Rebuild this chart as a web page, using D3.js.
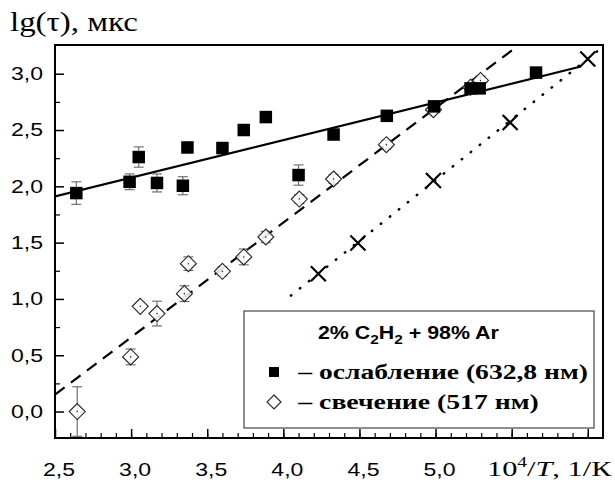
<!DOCTYPE html>
<html>
<head>
<meta charset="utf-8">
<script src="https://cdn.jsdelivr.net/npm/d3@7"></script>
<style>
  body { margin: 0; background: #fff; }
  .tick text { font-family: "Liberation Sans", Arial, sans-serif; font-size: 18px; fill: #000; }
</style>
</head>
<body>
<div id="chart"></div>
<script>
// ослабление (632,8 нм) - filled squares
var sqX   = [2.64, 2.99, 3.05, 3.17, 3.34, 3.37, 3.60, 3.74, 3.885, 4.10, 4.33, 4.68, 4.99, 5.23, 5.29, 5.66];
var sqY   = [1.94, 2.04, 2.26, 2.03, 2.005, 2.345, 2.34, 2.50, 2.615, 2.10, 2.46, 2.626, 2.71, 2.87, 2.87, 3.01];
var sqErr = [0.10, 0.07, 0.09, 0.08, 0.08, 0, 0, 0, 0, 0.09, 0, 0, 0, 0, 0, 0];

// свечение (517 нм) - open diamonds
var dmX   = [2.646, 2.997, 3.06, 3.17, 3.35, 3.376, 3.60, 3.74, 3.885, 4.105, 4.33, 4.677, 4.986, 5.23, 5.295];
var dmY   = [0.0, 0.485, 0.934, 0.87, 1.047, 1.313, 1.245, 1.373, 1.55, 1.887, 2.065, 2.37, 2.68, 2.88, 2.94];
var dmErr = [0.22, 0.07, 0, 0.11, 0.07, 0.06, 0.04, 0.07, 0.05, 0.04, 0.04, 0.04, 0.03, 0.03, 0.04];

// crosses
var crX = [4.23, 4.49, 4.986, 5.49, 6.0];
var crY = [1.224, 1.497, 2.052, 2.567, 3.13];

// fitted lines (end points)
var solidX  = [2.5, 5.955],  solidY  = [1.91, 3.064];
var dashedX = [2.5, 5.534],  dashedY = [0.15, 3.24];
var dottedX = [4.05, 6.09],  dottedY = [1.03, 3.23];

var xTicks = [2.5, 3.0, 3.5, 4.0, 4.5, 5.0];
var yTicks = [0.0, 0.5, 1.0, 1.5, 2.0, 2.5, 3.0];

var width = 615, height = 484;
var margin = {top: 45, right: 12, bottom: 46, left: 55};
var w = width - margin.left - margin.right,
    h = height - margin.top - margin.bottom;

var fmt = function(d) { return d3.format(".1f")(d).replace(".", ","); };

var x = d3.scaleLinear().domain([2.5, 6.1]).range([0, w]);
var y = d3.scaleLinear().domain([-0.235, 3.255]).range([h, 0]);

var root = d3.select("#chart").append("svg")
    .attr("width", width)
    .attr("height", height);
var svg = root.append("g")
    .attr("transform", "translate(" + margin.left + "," + margin.top + ")");

svg.append("defs").append("clipPath").attr("id", "clip")
  .append("rect").attr("width", w).attr("height", h);

// the scanned figure is stretched sideways, so text is widened to match
function stretch(sel, target) {
  sel.each(function() {
    var b = this.getBBox();
    var s = target / b.width, ax = b.x;
    var a = d3.select(this).attr("text-anchor");
    if (a === "middle") ax = b.x + b.width / 2;
    if (a === "end") ax = b.x + b.width;
    var t = d3.select(this).attr("transform") || "";
    d3.select(this).attr("transform", t + " translate(" + ax + ",0) scale(" + s + ",1) translate(" + (-ax) + ",0)");
  });
}

// minor ticks
svg.append("g")
    .attr("transform", "translate(0," + h + ")")
    .call(d3.axisBottom(x).tickValues(d3.range(2.6, 6.05, 0.1)).tickSize(-5).tickFormat(""))
    .call(function(g) { g.select(".domain").remove(); g.selectAll("line").attr("stroke-width", 1.2); });
svg.append("g")
    .call(d3.axisLeft(y).tickValues(d3.range(0.25, 3.2, 0.5)).tickSize(-5).tickFormat(""))
    .call(function(g) { g.select(".domain").remove(); g.selectAll("line").attr("stroke-width", 1.2); });

// major ticks
var xAxis = svg.append("g")
    .attr("transform", "translate(0," + h + ")")
    .call(d3.axisBottom(x).tickValues([2.5, 3.0, 3.5, 4.0, 4.5, 5.0, 5.5, 6.0]).tickSize(-9).tickPadding(25)
      .tickFormat(function(d) { return xTicks.indexOf(d) >= 0 ? fmt(d) : ""; }))
    .call(function(g) { g.select(".domain").remove(); g.selectAll("line").attr("stroke-width", 1.5); });
var yAxis = svg.append("g")
    .call(d3.axisLeft(y).tickValues(yTicks).tickSize(-9).tickPadding(19).tickFormat(fmt))
    .call(function(g) { g.select(".domain").remove(); g.selectAll("line").attr("stroke-width", 1.5); });
stretch(xAxis.selectAll(".tick text").filter(function(d) { return xTicks.indexOf(d) >= 0; }), 32);
stretch(yAxis.selectAll(".tick text"), 32);

// frame
svg.append("rect")
    .attr("width", w).attr("height", h)
    .attr("fill", "none").attr("stroke", "#000").attr("stroke-width", 2);

var plot = svg.append("g").attr("clip-path", "url(#clip)");

function fitLine(xs, ys) {
  return d3.line().x(function(d) { return x(d); }).y(function(d, i) { return y(ys[i]); })(xs);
}

plot.append("path").attr("d", fitLine(solidX, solidY))
    .attr("fill", "none").attr("stroke", "#000").attr("stroke-width", 2.2);
plot.append("path").attr("d", fitLine(dashedX, dashedY))
    .attr("fill", "none").attr("stroke", "#000").attr("stroke-width", 2.2)
    .attr("stroke-dasharray", "12,8");
plot.append("path").attr("d", fitLine(dottedX, dottedY))
    .attr("fill", "none").attr("stroke", "#000").attr("stroke-width", 2.5)
    .attr("stroke-linecap", "round").attr("stroke-dasharray", "0.5,11");

// error bars
function errBars(xs, ys, es) {
  var g = svg.append("g").attr("stroke", "#666").attr("stroke-width", 1.1);
  xs.forEach(function(xv, i) {
    if (!es[i]) return;
    var cx = x(xv), y1 = y(ys[i] - es[i]), y2 = y(ys[i] + es[i]);
    g.append("line").attr("x1", cx).attr("x2", cx).attr("y1", y1).attr("y2", y2);
    g.append("line").attr("x1", cx - 5).attr("x2", cx + 5).attr("y1", y1).attr("y2", y1);
    g.append("line").attr("x1", cx - 5).attr("x2", cx + 5).attr("y1", y2).attr("y2", y2);
  });
}
errBars(sqX, sqY, sqErr);
errBars(dmX, dmY, dmErr);

var sq = 12.5, dm = 8;

// diamonds
var dg = svg.append("g");
dmX.forEach(function(xv, i) {
  var cx = x(xv), cy = y(dmY[i]);
  dg.append("path")
      .attr("d", "M" + cx + "," + (cy - dm) + "L" + (cx + dm) + "," + cy + "L" + cx + "," + (cy + dm) + "L" + (cx - dm) + "," + cy + "Z")
      .attr("fill", "#fff").attr("fill-opacity", 0.85).attr("stroke", "#222").attr("stroke-width", 1.1);
  dg.append("circle").attr("cx", cx).attr("cy", cy).attr("r", 0.8).attr("fill", "#333");
});

// squares
svg.append("g").selectAll("rect")
    .data(sqX)
  .enter().append("rect")
    .attr("x", function(d) { return x(d) - sq / 2; })
    .attr("y", function(d, i) { return y(sqY[i]) - sq / 2; })
    .attr("width", sq).attr("height", sq)
    .attr("fill", "#000");

// crosses
var cg = svg.append("g").attr("stroke", "#000").attr("stroke-width", 2.2);
crX.forEach(function(xv, i) {
  var cx = x(xv), cy = y(crY[i]), s = 7.5;
  cg.append("path").attr("d", "M" + (cx - s) + "," + (cy - s) + "L" + (cx + s) + "," + (cy + s) +
      "M" + (cx - s) + "," + (cy + s) + "L" + (cx + s) + "," + (cy - s));
});

// legend
var lg = svg.append("g").attr("transform", "translate(" + (244 - margin.left) + "," + (311 - margin.top) + ")");
lg.append("rect").attr("width", 350).attr("height", 117)
    .attr("fill", "#fff").attr("stroke", "#444").attr("stroke-width", 1.2);
var title = lg.append("text").attr("x", 74).attr("y", 28)
    .style("font-family", "'Liberation Sans', Arial, sans-serif")
    .style("font-weight", "bold").style("font-size", "18px");
title.append("tspan").text("2% C");
title.append("tspan").attr("dy", 5).style("font-size", "13px").text("2");
title.append("tspan").attr("dy", -5).text("H");
title.append("tspan").attr("dy", 5).style("font-size", "13px").text("2");
title.append("tspan").attr("dy", -5).text(" + 98% Ar");
stretch(title, 181);

var rows = ["–  ослабление (632,8 нм)", "–  свечение (517 нм)"];
var rowW = [291, 242];
rows.forEach(function(t, i) {
  var cy = 61 + i * 30;
  var tx = lg.append("text").attr("x", 54).attr("y", cy + 7)
      .style("font-family", "'Liberation Serif', 'Times New Roman', serif")
      .style("font-weight", "bold").style("font-size", "21px")
      .text(t);
  stretch(tx, rowW[i]);
  if (i === 0) {
    lg.append("rect").attr("x", 30 - 5).attr("y", cy - 5).attr("width", 10).attr("height", 10).attr("fill", "#000");
  } else {
    lg.append("path").attr("d", "M30," + (cy - 7) + "L37," + cy + "L30," + (cy + 7) + "L23," + cy + "Z")
        .attr("fill", "#fff").attr("stroke", "#222").attr("stroke-width", 1.1);
  }
});

// axis titles
var yt = root.append("text").attr("x", 10).attr("y", 31)
    .style("font-family", "'Liberation Serif', 'Times New Roman', serif")
    .style("font-size", "27px")
    .text("lg(τ), мкс");
stretch(yt, 128);

var xt = root.append("text").attr("x", 487).attr("y", 476)
    .style("font-family", "'Liberation Serif', 'Times New Roman', serif")
    .style("font-size", "22px");
xt.append("tspan").text("10");
xt.append("tspan").attr("dy", -9).style("font-size", "14px").text("4");
xt.append("tspan").attr("dy", 9).text("/");
xt.append("tspan").style("font-style", "italic").text("T");
xt.append("tspan").text(", 1/К");
stretch(xt, 125);
</script>
</body>
</html>
